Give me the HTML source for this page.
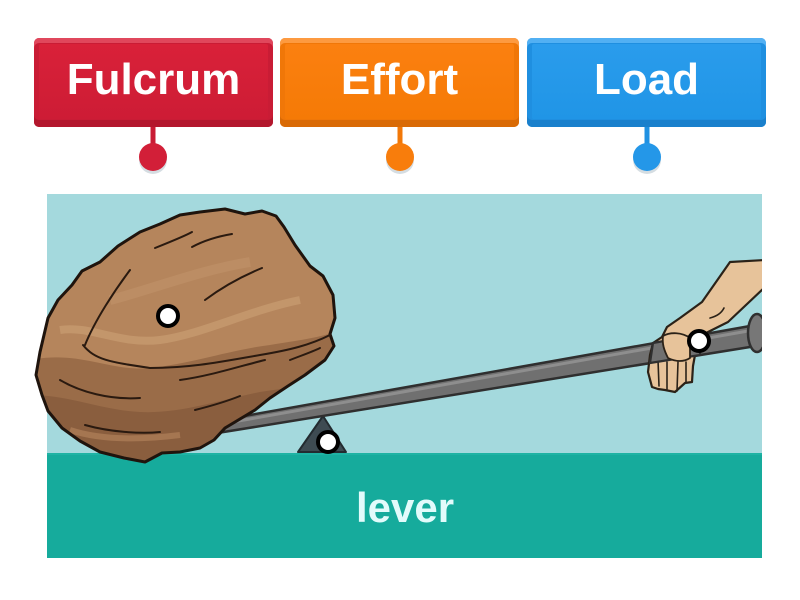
<!DOCTYPE html>
<html>
<head>
<meta charset="utf-8">
<style>
html,body{margin:0;padding:0;background:#fff;}
body{width:800px;height:600px;overflow:hidden;position:relative;font-family:"Liberation Sans",sans-serif;}
.box{position:absolute;top:38px;width:239px;height:89px;border-radius:5px;box-sizing:border-box;color:#fff;font-weight:bold;font-size:44px;text-align:center;line-height:84px;}
.box .in{position:absolute;left:5px;right:5px;top:6px;bottom:8px;border-radius:2px;}
.box span{position:relative;}
.red{left:34px;background:#c91c35;box-shadow:inset 0 5px 0 #e0475c,inset 0 -7px 0 #b3172d;}
.red .in{background:linear-gradient(#d92139,#cd1c35);}
.org{left:280px;background:#f07708;box-shadow:inset 0 5px 0 #fd9a40,inset 0 -7px 0 #d96a05;}
.org .in{background:linear-gradient(#fb8010,#f57a06);}
.blu{left:527px;background:#1f8fe0;box-shadow:inset 0 5px 0 #52b0f3,inset 0 -7px 0 #1a80cc;}
.blu .in{background:linear-gradient(#2a9cec,#2095e6);}
svg{position:absolute;left:0;top:0;}
</style>
</head>
<body>
<svg width="800" height="600" viewBox="0 0 800 600">
  <defs>
    <clipPath id="pic"><rect x="47" y="194" width="715" height="364"/></clipPath>
    <clipPath id="rockclip">
      <path id="rockp" d="M40,352 L48,318 L58,300 L72,285 L82,271 L100,262 L118,246 L140,232 L160,224 L180,215 L200,212 L225,209 L245,214 L262,211 L276,216 L284,227 L295,245 L310,266 L323,276 L333,295 L335,318 L330,334 L334,346 L325,360 L305,375 L288,386 L270,398 L255,410 L240,419 L225,428 L214,440 L200,448 L180,452 L162,453 L145,462 L124,458 L100,452 L80,441 L62,428 L48,411 L42,395 L36,375 Z"/>
    </clipPath>
  </defs>
  <!-- connectors -->
  <rect x="150.5" y="125" width="5" height="22" fill="#c91c35"/>
  <circle cx="153" cy="160" r="14" fill="#d5dde2"/>
  <circle cx="153" cy="157" r="14" fill="#d21f38"/>
  <rect x="397.5" y="125" width="5" height="22" fill="#f27808"/>
  <circle cx="400" cy="160" r="14" fill="#d5dde2"/>
  <circle cx="400" cy="157" r="14" fill="#f87d0c"/>
  <rect x="644.5" y="125" width="5" height="22" fill="#2091e2"/>
  <circle cx="647" cy="160" r="14" fill="#d5dde2"/>
  <circle cx="647" cy="157" r="14" fill="#2497e8"/>

  <g clip-path="url(#pic)">
    <rect x="47" y="194" width="715" height="364" fill="#a4d9dd"/>
    <rect x="47" y="453" width="715" height="105" fill="#16ab9c"/>
    <rect x="47" y="453" width="715" height="2" fill="#1eb3a4"/>
    <!-- fulcrum -->
    <polygon points="323,416 298,452 346,452" fill="#3e4b52" stroke="#232b30" stroke-width="2" stroke-linejoin="round"/>
    <!-- rod -->
    <polygon points="205,423 750,326 750,347 205,435" fill="#707070" stroke="#2f2f2f" stroke-width="2.5" stroke-linejoin="round"/>
    <polyline points="210,426 748,331" fill="none" stroke="#8e8e8e" stroke-width="3"/>
    <ellipse cx="757" cy="333" rx="9" ry="19" fill="#777" stroke="#303030" stroke-width="2.5"/>
    <!-- hand/arm -->
    <path d="M730,262 L765,260 L765,287 L728,322 L700,336 L695,355 L693,366 L692,382 L685,383 L675,392 L665,390 L658,389 L652,387 L648,372 L650,355 L653,343 L662,337 L667,327 L680,318 L702,302 Z" fill="#e7c39a" stroke="#2b2218" stroke-width="2.2" stroke-linejoin="round"/>
    <g fill="none" stroke="#2b2218" stroke-width="1.6" stroke-linecap="round">
      <path d="M658,360 L659,386"/>
      <path d="M667,362 L667,389"/>
      <path d="M678,362 L677,391"/>
      <path d="M686,362 L686,382"/>
      <path d="M710,318 C718,316 722,312 724,308"/>
    </g>
    <polygon points="653,343 700,334.5 700,355 650,363" fill="#707070" stroke="#2f2f2f" stroke-width="2.2" stroke-linejoin="round"/>
    <path d="M663,336 C670,332 682,332 690,338 L690,358 C684,362 676,362 668,358 C664,350 662,344 663,336 Z" fill="#e7c39a" stroke="#2b2218" stroke-width="1.8" stroke-linejoin="round"/>
    <!-- lever text -->
    <text x="405" y="522" text-anchor="middle" font-family="Liberation Sans, sans-serif" font-weight="bold" font-size="42" fill="#e2fbfb">lever</text>
  </g>
  <!-- rock (overflows picture on the left) -->
  <use href="#rockp" fill="#b5855c" stroke="none"/>
  <g clip-path="url(#rockclip)">
    <path d="M30,360 C80,350 110,372 150,368 C190,364 230,350 270,345 C300,340 320,338 340,330 L340,470 L30,470 Z" fill="#9a6c48"/>
    <path d="M30,395 C70,395 100,410 140,412 C180,414 220,400 260,392 L340,380 L340,470 L30,470 Z" fill="#8a5e3e"/>
    <path d="M60,330 C90,325 120,345 160,340 C200,335 250,310 300,300" fill="none" stroke="#c99c72" stroke-width="8" opacity="0.7"/>
    <path d="M110,300 C150,290 200,270 250,262" fill="none" stroke="#c4966c" stroke-width="10" opacity="0.5"/>
    <path d="M70,430 C100,440 140,440 180,435" fill="none" stroke="#b0805a" stroke-width="6" opacity="0.7"/>
  </g>
  <use href="#rockp" fill="none" stroke="#1f140d" stroke-width="3" stroke-linejoin="round"/>
  <g fill="none" stroke="#2a1a10" stroke-width="2" stroke-linecap="round">
    <path d="M130,270 C115,290 95,320 85,345"/>
    <path d="M83,345 C95,360 110,362 150,368 C190,368 220,362 260,355 C290,350 310,345 330,335"/>
    <path d="M60,380 C80,392 110,400 140,398"/>
    <path d="M180,380 C210,376 240,366 265,360"/>
    <path d="M85,425 C110,432 140,434 160,432"/>
    <path d="M195,410 C215,405 230,400 240,396"/>
    <path d="M205,300 C225,285 245,275 262,268"/>
    <path d="M192,247 C205,240 220,236 232,234"/>
    <path d="M155,248 C170,242 185,236 192,232"/>
    <path d="M290,360 C300,356 312,352 320,348"/>
  </g>
  <!-- markers -->
  <circle cx="168" cy="316" r="10" fill="#fff" stroke="#000" stroke-width="4"/>
  <circle cx="328" cy="442" r="10" fill="#fff" stroke="#000" stroke-width="4"/>
  <circle cx="699" cy="341" r="10" fill="#fff" stroke="#000" stroke-width="4"/>
</svg>
<div class="box red"><div class="in"></div><span>Fulcrum</span></div>
<div class="box org"><div class="in"></div><span>Effort</span></div>
<div class="box blu"><div class="in"></div><span>Load</span></div>
</body>
</html>
